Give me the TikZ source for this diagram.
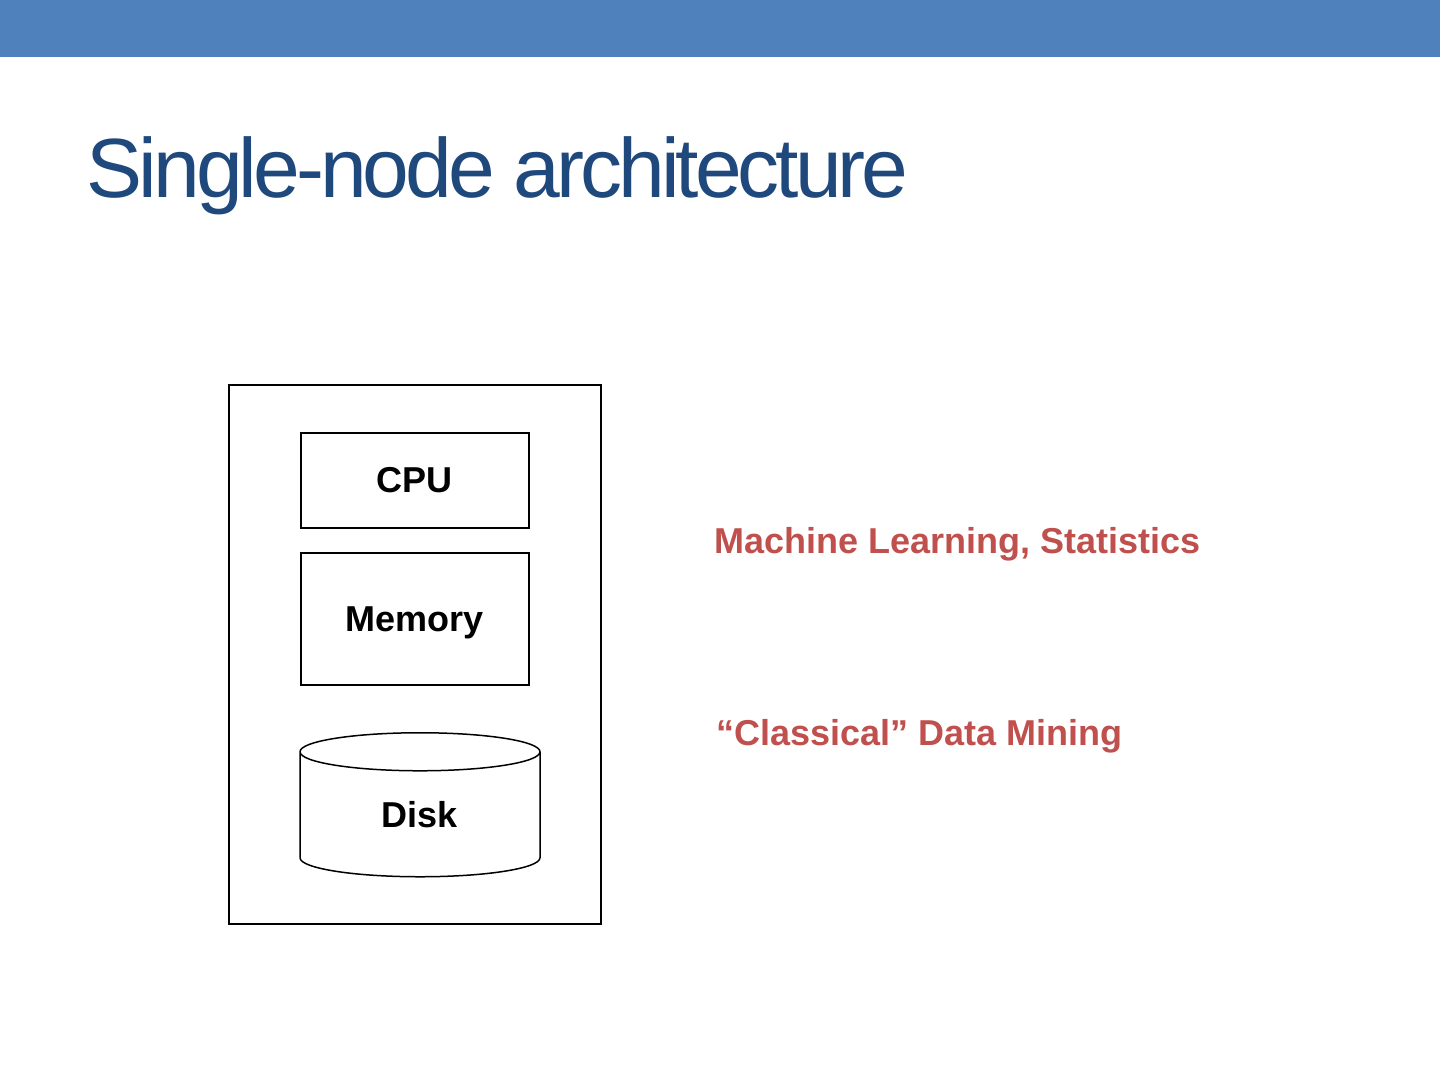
\documentclass[tikz,border=0pt]{standalone}
\usepackage{fontspec}
\setmainfont{Liberation Sans}
\usepackage{tikz}
\usetikzlibrary{shapes.geometric}
\definecolor{bar1}{HTML}{4F81BD}
\definecolor{title1}{HTML}{1F497D}
\definecolor{red1}{HTML}{C0504D}

\begin{document}
\begin{tikzpicture}[x=1pt, y=-1pt, line width=1.5pt,
    every node/.style={font=\fontsize{36}{43}\selectfont\bfseries, inner sep=0pt},
    part/.style={draw, anchor=north west, minimum width=228pt, text depth=0pt},
    topic/.style={red1, anchor=base west}]

    % Page and the blue bar on top
    \useasboundingbox (0,0) rectangle (1440,1080);
    \fill[bar1] (0,0) rectangle (1440,57);

    % Title
    \node[title1, anchor=base west, font=\addfontfeatures{LetterSpace=-4.8}\fontsize{84}{100}\selectfont] (title) at (86,197) {Single-node architecture};

    % The machine and its parts
    \node[draw, anchor=north west, minimum width=372pt, minimum height=539pt] (machine) at (228,384) {};
    \node[part, minimum height=95pt] (cpu) at (300,432) {CPU};
    \node[part, minimum height=132pt] (memory) at (300,552) {Memory};
    \node[draw, cylinder, shape border rotate=90, aspect=0.5, minimum width=240pt, minimum height=144pt, anchor=north, text depth=0pt] (disk) at (420,732) {Disk};

    % Fields on the right
    \node[topic] (ml) at (714,553) {Machine Learning, Statistics};
    \node[topic] (dm) at (716,745) {“Classical” Data Mining};

\end{tikzpicture}
\end{document}
